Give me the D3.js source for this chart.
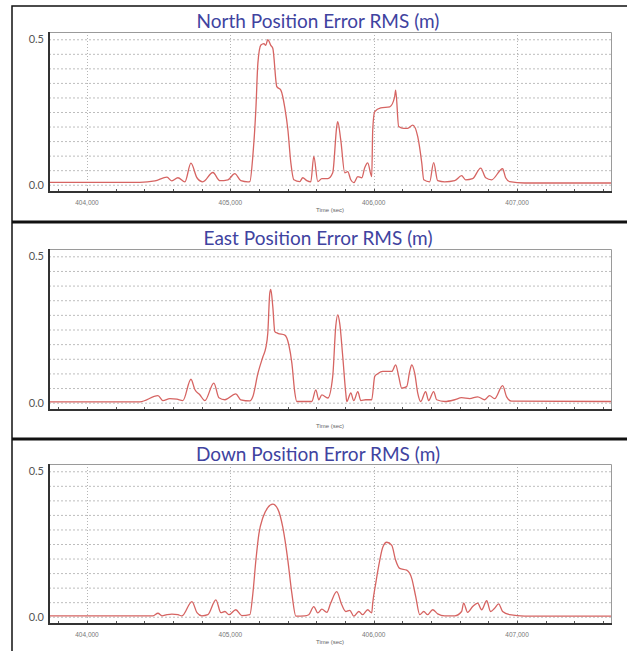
<!DOCTYPE html>
<html>
<head>
<meta charset="utf-8">
<script src="https://cdn.jsdelivr.net/npm/d3@7"></script>
<style>
  body { margin: 0; background: #fff; }
  svg { display: block; }
</style>
</head>
<body>
<div id="chart"></div>
<script>
// time (sec), RMS (m)
var northData = [
  [403735, 0.008], [404369, 0.008], [404474, 0.013], [404558, 0.026], [404592, 0.013],
  [404634, 0.024], [404683, 0.010], [404725, 0.074], [404767, 0.024], [404808, 0.010],
  [404878, 0.042], [404927, 0.014], [404983, 0.017], [405031, 0.038], [405073, 0.014],
  [405122, 0.010], [405136, 0.011], [405157, 0.100], [405178, 0.260], [405192, 0.418],
  [405213, 0.480], [405234, 0.485], [405247, 0.479], [405261, 0.499], [405282, 0.479],
  [405296, 0.469], [405324, 0.337], [405352, 0.325], [405380, 0.264], [405401, 0.190],
  [405422, 0.075], [405443, 0.017], [405484, 0.011], [405505, 0.024], [405533, 0.014],
  [405561, 0.010], [405582, 0.097], [405610, 0.011], [405638, 0.021], [405680, 0.021],
  [405714, 0.041], [405742, 0.200], [405749, 0.217], [405770, 0.154], [405798, 0.041],
  [405819, 0.045], [405840, 0.017], [405861, 0.007], [405889, 0.028], [405917, 0.024],
  [405937, 0.058], [405958, 0.075], [405986, 0.028], [405993, 0.188], [406007, 0.251],
  [406049, 0.264], [406112, 0.268], [406146, 0.302], [406153, 0.325], [406174, 0.200],
  [406209, 0.194], [406237, 0.194], [406272, 0.205], [406307, 0.165], [406335, 0.075],
  [406349, 0.017], [406390, 0.010], [406418, 0.076], [406446, 0.014], [406495, 0.010],
  [406565, 0.014], [406613, 0.031], [406641, 0.017], [406690, 0.021], [406746, 0.057],
  [406781, 0.024], [406822, 0.017], [406899, 0.055], [406920, 0.024], [406948, 0.011],
  [407052, 0.006], [407655, 0.006]
];

var eastData = [
  [403735, 0.003], [404369, 0.003], [404495, 0.024], [404530, 0.007], [404578, 0.014],
  [404627, 0.012], [404669, 0.007], [404725, 0.080], [404753, 0.044], [404787, 0.027],
  [404822, 0.007], [404885, 0.067], [404920, 0.017], [404962, 0.010], [405038, 0.030],
  [405073, 0.010], [405136, 0.006], [405157, 0.021], [405192, 0.100], [405227, 0.157],
  [405247, 0.187], [405261, 0.237], [405275, 0.374], [405282, 0.387], [405296, 0.328],
  [405310, 0.243], [405331, 0.237], [405380, 0.231], [405408, 0.197], [405429, 0.135],
  [405450, 0.033], [405463, 0.004], [405568, 0.004], [405596, 0.044], [405617, 0.010],
  [405638, 0.027], [405680, 0.016], [405714, 0.090], [405735, 0.260], [405749, 0.300],
  [405763, 0.270], [405784, 0.157], [405805, 0.033], [405812, 0.004], [405840, 0.033],
  [405861, 0.007], [405889, 0.038], [405910, 0.007], [405944, 0.010], [405986, 0.010],
  [406007, 0.090], [406028, 0.099], [406063, 0.107], [406126, 0.107], [406153, 0.129],
  [406174, 0.090], [406195, 0.050], [406230, 0.055], [406251, 0.107], [406265, 0.129],
  [406286, 0.100], [406307, 0.033], [406328, 0.004], [406362, 0.038], [406383, 0.007],
  [406418, 0.038], [406439, 0.010], [406495, 0.004], [406565, 0.010], [406613, 0.017],
  [406669, 0.014], [406725, 0.020], [406774, 0.010], [406808, 0.024], [406843, 0.014],
  [406899, 0.058], [406927, 0.020], [406962, 0.005], [407655, 0.004]
];

var downData = [
  [403735, 0.003], [404460, 0.003], [404495, 0.012], [404523, 0.003], [404558, 0.007],
  [404592, 0.009], [404634, 0.007], [404662, 0.003], [404732, 0.052], [404767, 0.014],
  [404801, 0.003], [404843, 0.007], [404899, 0.058], [404934, 0.014], [404962, 0.018],
  [404990, 0.007], [405038, 0.024], [405080, 0.004], [405136, 0.007], [405157, 0.080],
  [405178, 0.194], [405199, 0.285], [405227, 0.341], [405261, 0.375], [405296, 0.387],
  [405331, 0.370], [405366, 0.307], [405401, 0.194], [405429, 0.080], [405457, 0.002],
  [405519, 0.003], [405547, 0.007], [405582, 0.035], [405610, 0.013], [405638, 0.026],
  [405673, 0.015], [405700, 0.047], [405742, 0.086], [405777, 0.041], [405805, 0.018],
  [405833, 0.022], [405861, 0.002], [405896, 0.018], [405923, 0.007], [405958, 0.024],
  [405986, 0.013], [405993, 0.047], [406014, 0.115], [406042, 0.194], [406063, 0.239],
  [406091, 0.256], [406126, 0.245], [406153, 0.194], [406181, 0.166], [406230, 0.160],
  [406265, 0.132], [406293, 0.069], [406321, 0.007], [406349, 0.018], [406376, 0.007],
  [406411, 0.024], [406446, 0.010], [406495, 0.003], [406565, 0.003], [406613, 0.018],
  [406627, 0.047], [406655, 0.015], [406690, 0.035], [406725, 0.047], [406753, 0.024],
  [406788, 0.055], [406815, 0.018], [406843, 0.029], [406871, 0.044], [406899, 0.018],
  [406948, 0.007], [407052, 0.002], [407655, 0.002]
];

var titles = ["North Position Error RMS (m)", "East Position Error RMS (m)", "Down Position Error RMS (m)"];
var xTicks = [404000, 405000, 406000, 407000];
var yTicks = [0.0, 0.5];
var yGrid = [0, 0.05, 0.1, 0.15, 0.2, 0.25, 0.3, 0.35, 0.4, 0.45, 0.5];
var minorTicks = [403800, 404000, 404200, 404400, 404600, 404800, 405000, 405200, 405400, 405600,
                  405800, 406000, 406200, 406400, 406600, 406800, 407000, 407200, 407400, 407600];

var width = 627, height = 651;
var svg = d3.select("#chart").append("svg")
    .attr("width", width)
    .attr("height", height);

svg.append("rect").attr("width", width).attr("height", height).attr("fill", "#fff");

// panel layout: title baseline, plot top, plot bottom, show x labels / vertical grid
var panels = [
    {data: northData, title: titles[0], titleY: 28, top: 32, bottom: 192, labels: true},
    {data: eastData, title: titles[1], titleY: 245, top: 249, bottom: 410, labels: false},
    {data: downData, title: titles[2], titleY: 461, top: 464, bottom: 624, labels: true}
];

var x = d3.scaleLinear().domain([403735, 407655]).range([49, 611]);
var tickFmt = d3.format(",");

panels.forEach(function (p, i) {
    var g = svg.append("g").attr("class", "panel" + i);
    var y = d3.scaleLinear().domain([-0.025, 0.525]).range([p.bottom, p.top]);

    // horizontal grid
    g.selectAll(".hgrid")
        .data(yGrid)
        .enter().append("line")
        .attr("class", "hgrid")
        .attr("x1", x.range()[0]).attr("x2", x.range()[1])
        .attr("y1", function (d) { return y(d) + 0.5; })
        .attr("y2", function (d) { return y(d) + 0.5; })
        .style("stroke", "#bdbdbd")
        .style("stroke-width", 1)
        .style("stroke-dasharray", "2,2");

    if (p.labels) {
        g.selectAll(".vgrid")
            .data(xTicks)
            .enter().append("line")
            .attr("class", "vgrid")
            .attr("x1", function (d) { return Math.round(x(d)) + 0.5; })
            .attr("x2", function (d) { return Math.round(x(d)) + 0.5; })
            .attr("y1", p.top).attr("y2", p.bottom)
            .style("stroke", "#b5b5b5")
            .style("stroke-width", 1)
            .style("stroke-dasharray", "1,2");
    }

    // plot frame: grey top/right, dark left/bottom
    g.append("path")
        .attr("d", "M" + x.range()[0] + "," + (p.top + 0.5) + "H" + (x.range()[1] + 0.5) + "V" + p.bottom)
        .style("fill", "none")
        .style("stroke", "#9a9a9a")
        .style("stroke-width", 1);

    // minor ticks on bottom axis
    g.selectAll(".mtick")
        .data(minorTicks)
        .enter().append("line")
        .attr("x1", function (d) { return Math.round(x(d)) + 0.5; })
        .attr("x2", function (d) { return Math.round(x(d)) + 0.5; })
        .attr("y1", p.bottom - 3).attr("y2", p.bottom)
        .style("stroke", "#555")
        .style("stroke-width", 1);

    var line = d3.line()
        .x(function (d) { return x(d[0]); })
        .y(function (d) { return y(d[1]); })
        .curve(d3.curveMonotoneX);

    g.append("path")
        .datum(p.data)
        .attr("d", line)
        .style("fill", "none")
        .style("stroke", "#d66462")
        .style("stroke-width", 1.3)
        .style("stroke-linejoin", "round");

    g.append("path")
        .attr("d", "M" + x.range()[0] + "," + p.top + "V" + p.bottom + "H" + (x.range()[1] + 1))
        .style("fill", "none")
        .style("stroke", "#333")
        .style("stroke-width", 2);

    g.selectAll(".ylab")
        .data(yTicks)
        .enter().append("text")
        .attr("x", 44)
        .attr("y", function (d) { return y(d); })
        .attr("dy", ".35em")
        .text(function (d) { return d.toFixed(1); })
        .style("text-anchor", "end")
        .style("font-family", "Lato, 'Open Sans', sans-serif")
        .style("font-size", "11px")
        .style("fill", "#555");

    if (p.labels) {
        g.selectAll(".xlab")
            .data(xTicks)
            .enter().append("text")
            .attr("x", function (d) { return x(d); })
            .attr("y", p.bottom + 13)
            .text(function (d) { return tickFmt(d); })
            .style("text-anchor", "middle")
            .style("font-family", "'Liberation Sans', Arial, sans-serif")
            .style("font-size", "6.5px")
            .style("fill", "#777");
    }

    g.append("text")
        .attr("x", 330)
        .attr("y", p.labels ? p.bottom + 20 : p.bottom + 18)
        .text("Time (sec)")
        .style("text-anchor", "middle")
        .style("font-family", "'Liberation Sans', Arial, sans-serif")
        .style("font-size", "6px")
        .style("fill", "#666");

    g.append("text")
        .attr("x", 318)
        .attr("y", p.titleY)
        .text(p.title)
        .style("text-anchor", "middle")
        .style("font-family", "Lato, 'Open Sans', sans-serif")
        .style("font-size", "19px")
        .style("fill", "#4043a0");
});

// outer frame and separators
svg.append("path")
    .attr("d", "M12,651V6H627")
    .style("fill", "none")
    .style("stroke", "#111")
    .style("stroke-width", 1.5);

svg.selectAll(".sep")
    .data([222, 439])
    .enter().append("line")
    .attr("class", "sep")
    .attr("x1", 12).attr("x2", 627)
    .attr("y1", function (d) { return d; })
    .attr("y2", function (d) { return d; })
    .style("stroke", "#111")
    .style("stroke-width", 3);
</script>
</body>
</html>
